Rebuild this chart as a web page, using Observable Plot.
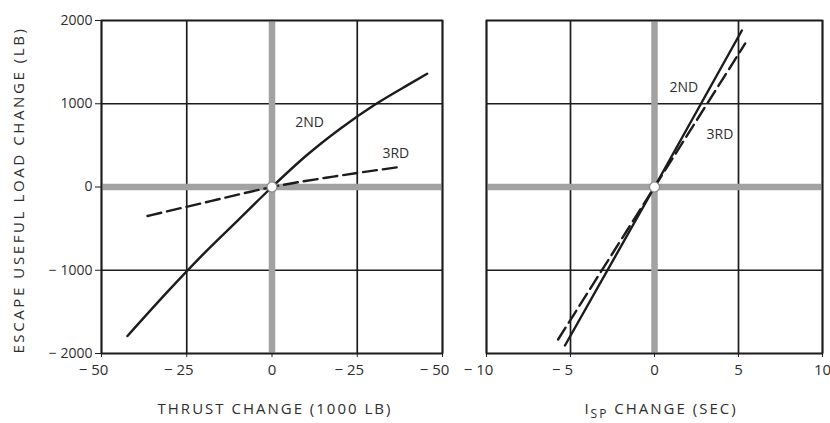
<!DOCTYPE html>
<html>
<head>
<meta charset="utf-8">
<script src="https://cdn.jsdelivr.net/npm/d3@7"></script>
<script src="https://cdn.jsdelivr.net/npm/@observablehq/plot@0.6"></script>
<style>
  html, body { margin: 0; padding: 0; background: #fff; }
  #wrap { position: relative; width: 830px; height: 423px; overflow: hidden; background: #fff; }
  #wrap svg { position: absolute; top: 0; overflow: visible; }
</style>
</head>
<body>
<div id="wrap"></div>
<script>
// ---- data ----
const yTickValues = [-2000, -1000, 0, 1000, 2000];
const yTickLabels = ["\u2212 2000", "\u2212 1000", "0", "1000", "2000"];

const thrustTickValues = [-50, -25, 0, 25, 50];
const thrustTickLabels = ["\u2212 50", "\u2212 25", "0", "\u2212 25", "\u2212 50"];

const ispTickValues = [-10, -5, 0, 5, 10];
const ispTickLabels = ["\u2212 10", "\u2212 5", "0", "5", "10"];

// Thrust change (1000 lb) vs escape useful load change (lb)
const thrust2ndX = [-42.4, -30, -20, -10, 0, 10, 20, 30, 40, 45.5];
const thrust2ndY = [-1790, -1230, -800, -400, 0, 375, 700, 985, 1230, 1360];
const thrust3rdX = [-36.5, -18, 0, 18, 37.4];
const thrust3rdY = [-348, -170, 0, 125, 240];

// Isp change (sec) vs escape useful load change (lb)
const isp2ndX = [-5.33, 0, 5.2];
const isp2ndY = [-1904, 0, 1880];
const isp3rdX = [-5.74, 0, 5.4];
const isp3rdY = [-1832, 0, 1724];

const stageLabels = ["2ND", "3RD"];
const thrustLabelX = [11, 36.3];
const thrustLabelY = [770, 408];
const ispLabelX = [1.75, 3.9];
const ispLabelY = [1200, 630];

// ---- helpers ----
const FONT = "'Open Sans', 'DejaVu Sans', sans-serif";
const INK = "#1c1c1c";
const TXT = "#2e2e2e";
const zip = (xs, ys) => xs.map((x, i) => ({x, y: ys[i]}));

function panel({width, marginLeft, marginRight, xDomain, xTicks, xLabels, s2, s3, labX, labY, showY}) {
  const xMap = new Map(xTicks.map((v, i) => [v, xLabels[i]]));
  const yMap = new Map(yTickValues.map((v, i) => [v, yTickLabels[i]]));
  const labels = stageLabels.map((t, i) => ({x: labX[i], y: labY[i], t}));
  const isMinus = v => xMap.get(v).startsWith("\u2212");
  const minusTicks = xTicks.filter(isMinus);
  const marks = [
    Plot.ruleX(xTicks.filter(d => d !== 0), {stroke: INK, strokeWidth: 1.7}),
    Plot.ruleY(yTickValues.filter(d => d !== 0), {stroke: INK, strokeWidth: 1.7}),
    Plot.ruleX([0], {stroke: "#a2a2a2", strokeWidth: 6.5}),
    Plot.ruleY([0], {stroke: "#a2a2a2", strokeWidth: 6.5}),
    Plot.frame({stroke: INK, strokeWidth: 1.7}),
    Plot.line(s3, {x: "x", y: "y", stroke: INK, strokeWidth: 2.4, strokeDasharray: "14,6", curve: "monotone-x"}),
    Plot.line(s2, {x: "x", y: "y", stroke: INK, strokeWidth: 2.4, curve: "monotone-x"}),
    Plot.dot([{x: 0, y: 0}], {x: "x", y: "y", r: 5, fill: "#fff", stroke: "#8a8a8a", strokeWidth: 1.2}),
    Plot.text(labels, {x: "x", y: "y", text: "t", fill: TXT, fontSize: 14, fontFamily: FONT, letterSpacing: "1.5px"}),
    // tick marks + labels without minus sign
    Plot.axisX({ticks: xTicks, tickFormat: d => isMinus(d) ? "" : xMap.get(d), tickSize: 4, tickPadding: 7, label: null, fontSize: 15, stroke: INK}),
    // labels with minus sign: digits centred on the tick, minus hanging left
    Plot.axisX({ticks: minusTicks, tickFormat: d => xMap.get(d), tickSize: 0, tickPadding: 11, label: null, fontSize: 15, dx: -8})
  ];
  if (showY) {
    marks.push(Plot.axisY({ticks: yTickValues, tickFormat: d => yMap.get(d), tickSize: 6, tickPadding: 3, label: null, fontSize: 14, stroke: INK}));
  }
  return Plot.plot({
    width, height: 423,
    marginLeft, marginRight, marginTop: 20, marginBottom: 70,
    x: {domain: xDomain},
    y: showY ? {domain: [-2000, 2000]} : {domain: [-2000, 2000], axis: null},
    style: {fontFamily: FONT, fontSize: "15px", color: TXT, background: "transparent", overflow: "visible"},
    marks
  });
}

const wrap = document.getElementById("wrap");

const left = panel({
  width: 470, marginLeft: 101, marginRight: 28,
  xDomain: [-50, 50], xTicks: thrustTickValues, xLabels: thrustTickLabels,
  s2: zip(thrust2ndX, thrust2ndY), s3: zip(thrust3rdX, thrust3rdY),
  labX: thrustLabelX, labY: thrustLabelY, showY: true
});
left.style.left = "0px";
wrap.appendChild(left);

const right = panel({
  width: 370, marginLeft: 26, marginRight: 8,
  xDomain: [-10, 10], xTicks: ispTickValues, xLabels: ispTickLabels,
  s2: zip(isp2ndX, isp2ndY), s3: zip(isp3rdX, isp3rdY),
  labX: ispLabelX, labY: ispLabelY, showY: false
});
right.style.left = "460px";
wrap.appendChild(right);

// axis titles
const ls = d3.select(left);
ls.append("text")
  .attr("x", 275).attr("y", 414)
  .attr("text-anchor", "middle")
  .attr("font-family", FONT).attr("font-size", 15).attr("letter-spacing", "2px")
  .attr("fill", TXT)
  .text("THRUST CHANGE (1000 LB)");
ls.append("text")
  .attr("transform", "translate(24,190) rotate(-90)")
  .attr("text-anchor", "middle")
  .attr("font-family", FONT).attr("font-size", 15).attr("letter-spacing", "2.6px")
  .attr("fill", TXT)
  .text("ESCAPE USEFUL LOAD CHANGE (LB)");

const rs = d3.select(right);
const isp = rs.append("text")
  .attr("x", 661 - 460).attr("y", 414)
  .attr("text-anchor", "middle")
  .attr("font-family", FONT).attr("font-size", 15).attr("letter-spacing", "2px")
  .attr("fill", TXT);
isp.append("tspan").text("I");
isp.append("tspan").attr("font-size", 12).attr("dy", 4).text("SP");
isp.append("tspan").attr("dy", -4).text(" CHANGE (SEC)");
</script>
</body>
</html>
